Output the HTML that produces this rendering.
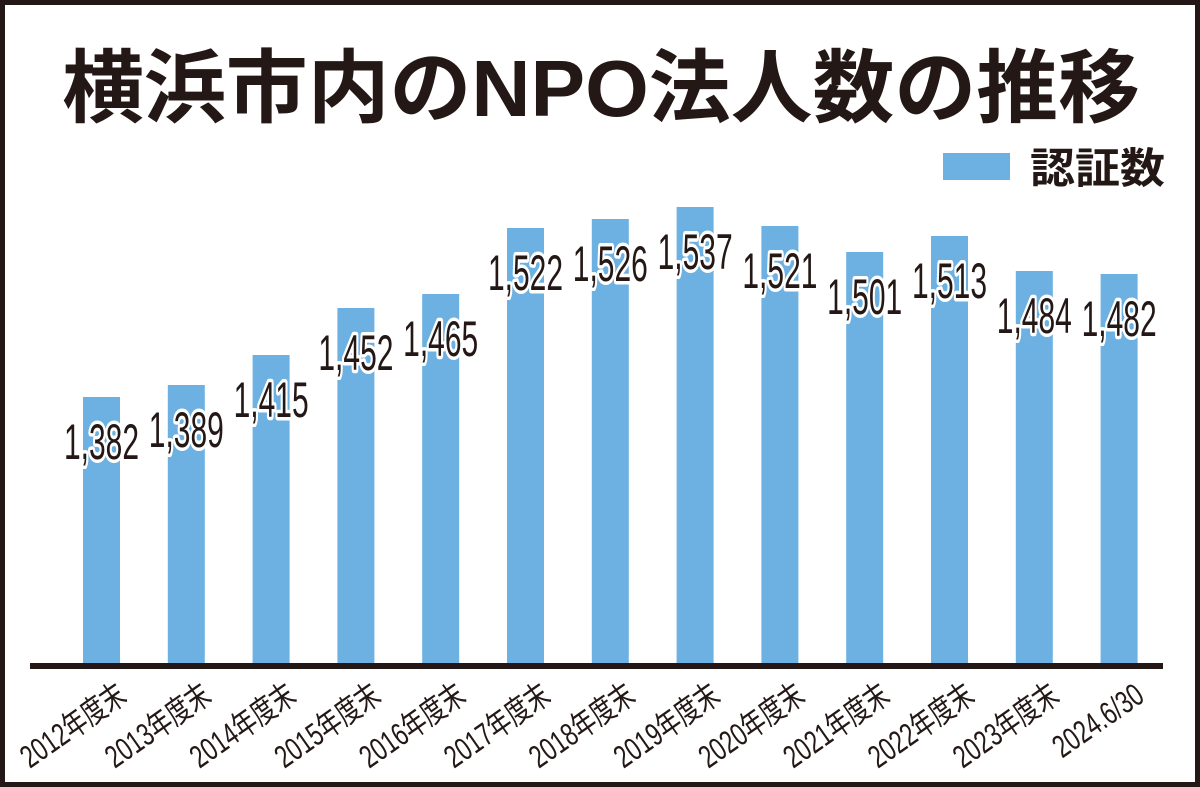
<!DOCTYPE html>
<html><head><meta charset="utf-8"><style>
html,body{margin:0;padding:0;background:#fff}
svg{display:block}
</style></head><body>
<svg width="1200" height="787" viewBox="0 0 1200 787" xmlns="http://www.w3.org/2000/svg" font-family="'Liberation Sans','Noto Sans CJK JP',sans-serif">
<rect x="2.5" y="2.5" width="1195" height="782" fill="#fff" stroke="#231815" stroke-width="5"/>
<text x="62" y="116" font-size="80" font-weight="bold" fill="#231815" textLength="1078" lengthAdjust="spacingAndGlyphs">横浜市内のNPO法人数の推移</text>
<rect x="943" y="153" width="67" height="27" fill="#6cb1e1"/>
<text x="1030" y="183" font-size="42" font-weight="bold" fill="#231815" textLength="135" lengthAdjust="spacingAndGlyphs">認証数</text>
<g fill="#6cb1e1" id="bars"></g>
<rect x="30" y="663" width="1133" height="6" fill="#231815"/>
<g id="labels" font-size="50" fill="#231815" stroke="#fff" stroke-width="7" paint-order="stroke" stroke-linejoin="round" text-anchor="middle"></g>
<g id="xl" font-size="32" fill="#231815" text-anchor="end"></g>
</svg>
<script>
var tops=[397,385,355,308,294,228,219,207,226,252,236,271,274];
var vals=["1,382","1,389","1,415","1,452","1,465","1,522","1,526","1,537","1,521","1,501","1,513","1,484","1,482"];
var xl=["2012年度末","2013年度末","2014年度末","2015年度末","2016年度末","2017年度末","2018年度末","2019年度末","2020年度末","2021年度末","2022年度末","2023年度末","2024.6/30"];
var ns="http://www.w3.org/2000/svg";
function el(n,a,t){var e=document.createElementNS(ns,n);for(var k in a)e.setAttribute(k,a[k]);if(t)e.textContent=t;return e;}
for(var i=0;i<13;i++){
 var c=101.5+i*84.8;
 document.getElementById('bars').appendChild(el('rect',{x:c-18.5,y:tops[i],width:37,height:666-tops[i]}));
 document.getElementById('labels').appendChild(el('text',{x:0,y:0,transform:'translate('+c+','+(tops[i]+62)+') scale(0.6,1)'},vals[i]));
 document.getElementById('xl').appendChild(el('text',{x:0,y:0,transform:'translate('+(c+27)+',700) rotate(-35) scale(0.72,1)'},xl[i]));
}
</script>
</body></html>
